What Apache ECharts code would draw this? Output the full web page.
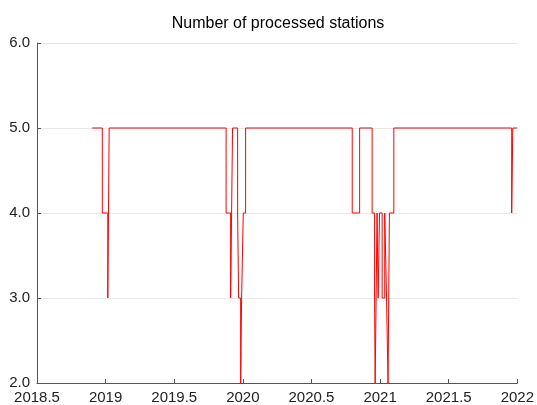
<!DOCTYPE html>
<html>
<head>
<meta charset="utf-8">
<script src="https://cdn.jsdelivr.net/npm/echarts@6/dist/echarts.min.js"></script>
<style>html,body{margin:0;padding:0;background:#fff}#c{width:537px;height:405px}</style>
</head>
<body>
<div id="c"></div>
<script>
// Change times (decimal year) and the station count from that time onward
const changeTimes = [
  2018.902, 2018.976, 2019.016, 2019.026,
  2019.878, 2019.911, 2019.925, 2019.962, 2019.969, 2019.984, 2019.991, 2020.003, 2020.020,
  2020.797, 2020.851,
  2020.942, 2020.960, 2020.964, 2020.978, 2020.986, 2020.996, 2021.015, 2021.034, 2021.047, 2021.058, 2021.068, 2021.100,
  2021.959, 2021.967, 2022.0
];
const stationCounts = [
  5, 4, 3, 5,
  4, 3, 5, 4, 3, 2, 3, 4, 5,
  4, 5,
  4, 3, 2, 4, 3, 4, 3, 4, 3, 2, 4, 5,
  4, 5, 5
];
const xTicks = [2018.5, 2019, 2019.5, 2020, 2020.5, 2021, 2021.5, 2022];
const yTicks = [2, 3, 4, 5, 6];

const data = changeTimes.map((t, i) => [t, stationCounts[i]]);
const chart = echarts.init(document.getElementById('c'), null, {renderer: 'canvas'});
const font = 'Liberation Sans, Arial, sans-serif';
chart.setOption({
  animation: false,
  title: {
    text: 'Number of processed stations',
    left: 273, top: 11, textAlign: 'center',
    textStyle: {fontFamily: font, fontSize: 16, fontWeight: 'normal', color: '#000'}
  },
  grid: {left: 37, right: 18, top: 43, bottom: 22, containLabel: false},
  xAxis: {
    type: 'value', min: xTicks[0], max: xTicks[xTicks.length - 1], interval: 0.5,
    axisLine: {show: true, lineStyle: {color: '#555', width: 1}},
    axisTick: {show: true, inside: true, length: 4, lineStyle: {color: '#555'}},
    axisLabel: {fontFamily: font, fontSize: 15, color: '#222', margin: 7,
      formatter: v => String(v)},
    splitLine: {show: false}
  },
  yAxis: {
    type: 'value', min: yTicks[0], max: yTicks[yTicks.length - 1], interval: 1,
    axisLine: {show: true, lineStyle: {color: '#555', width: 1}},
    axisTick: {show: true, inside: true, length: 4, lineStyle: {color: '#555'}},
    axisLabel: {fontFamily: font, fontSize: 15, color: '#222', margin: 7,
      formatter: v => v.toFixed(1)},
    splitLine: {show: true, lineStyle: {color: '#e8e8e8', width: 1}}
  },
  series: [{
    type: 'line', step: 'end', data: data, showSymbol: false, symbol: 'none',
    lineStyle: {color: '#ff0000', width: 1}, z: 3
  }]
});
</script>
</body>
</html>
